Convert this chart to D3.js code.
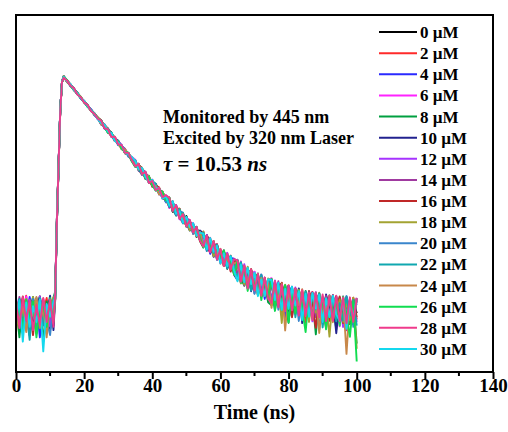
<!DOCTYPE html>
<html>
<head>
<meta charset="utf-8">
<script src="https://cdn.jsdelivr.net/npm/d3@7"></script>
<style>
  body { margin: 0; background: #fff; }
  text { font-family: "Liberation Serif", "Times New Roman", serif; font-weight: bold; }
</style>
</head>
<body>
<svg id="chart" width="508" height="432"></svg>
<script>
// time axis (ns)
const times = [0,1,2,3,4,5,6,7,8,9,10,11,11.5,12,12.5,13,13.5,
	14,15,16,17,18,19,20,21,22,23,24,25,26,27,28,29,30,31,32,33,34,35,36,37,38,39,40,41,42,43,44,45,46,47,48,49,50,
	51,52,53,54,55,56,57,58,59,60,61,62,63,64,65,66,67,68,69,70,71,72,73,74,75,76,77,78,79,80,81,82,83,84,85,86,87,
	88,89,90,91,92,93,94,95,96,97,98,99,100];

// average decay counts (log axis)
const meanCounts = [10,10,10,10,10,10,10,10,10,10,10,10,14,78,279,1000,1850,
	2075,1888,1718,1563,1422,1294,1178,1072,976,888,809,737,671,611,556,507,462,421,384,350,319,291,266,242,221,202,
	185,169,155,141,130,119,109,100,92,84,78,71.5,66,61,56,52,48,45,42,39,36,34,32,30,28,26,25,23.5,22,21,20,19,
	18.4,17.6,17,16.3,15.7,15.2,14.7,14.3,13.9,13.6,13.2,12.9,12.7,12.4,12.2,12,11.8,11.7,11.5,11.4,11.2,11.1,11,
	10.9,10.9,10.8,10.7,10.6,10.6];

// per-sample scatter of each trace around the mean, in percent
const j0 = [12,-20,35,-8,25,-30,5,40,-15,20,-35,10, 8,-4,2,-1,0, 1,-2,0,2,-1,1,-1,2,0,-2,1, 3,-4,2,5,-3,-1,4,-5,2,1, -6,7,2,-8,5,-3,8,-2,6,-7, 10,-12,4,9,-7,12,-3,6,-11,8, -15,18,5,-12,16,-8,14,-18,9,3, 22,-20,10,-15,23,-6,18,-22,12,-9, 25,-30,15,28,-20,10,-35,27,-12,22,-28,18,-8,30,-25,12,-40,24,-15,28,-22,8,26,-30,20,-10];
const j2 = [-15,30,-5,42,-25,18,-40,28,0,35,-20,15, -6,3,-2,1,0, -1,2,1,-2,0,2,-1,0,1,-1,2, -4,3,5,-2,-5,4,1,-3,5,-1, 7,-5,-8,4,7,-6,3,8,-4,-2, -9,11,-5,12,-10,3,10,-12,7,-4, 17,-10,-16,12,6,-18,15,-5,18,-12, -18,23,-10,20,-23,15,5,-20,22,-14, 28,-18,22,-32,10,30,-25,18,-10,27,-38,15,29,-15,20,-28,25,-5,30,-20,12,-30,24,-12,28,-22];
const j4 = [28,-38,10,-22,38,-10,25,-45,15,-5,30,-28, 10,5,1,2,-1, 2,0,-1,1,-2,0,2,-1,1,0,-2, 5,-2,-4,3,0,-5,2,4,-3,3, -3,8,-6,5,-8,2,6,-5,7,-8, 6,-10,12,-6,8,-12,4,11,-8,10, -12,15,-18,8,17,-14,6,-16,12,18, 20,-12,18,-23,8,22,-18,14,-25,18, -22,26,-15,20,-42,28,12,-24,26,-18,15,-30,22,-8,28,-35,18,-20,27,-14,24,-32,16,-25,22,8];
const j6 = [-5,25,-32,40,-12,22,-28,8,30,-40,20,-10, -8,-3,2,0,1, 0,1,-2,2,1,-1,0,-2,2,1,-1, -2,5,-3,-4,4,2,-5,3,-2,5, 8,-4,5,-7,-2,8,-6,4,-8,6, -12,8,-4,11,-9,6,12,-10,3,-6, 16,-18,10,-8,15,-16,18,-10,5,-17, -15,24,-20,12,-10,23,-22,18,-8,20, 30,-24,16,-12,27,-33,20,-18,28,-10,24,-26,10,30,-22,15,-30,26,-8,22,-35,28,-16,18,-24,26];
const j8 = [20,-45,32,-18,5,38,-30,15,-50,25,-12,35, 12,-5,-2,1,0, -2,1,2,-1,0,-2,1,2,-1,0,1, 4,1,-5,3,-3,5,-1,-4,3,-5, -8,3,6,-5,8,-7,-2,7,-5,4, 12,-6,-12,8,-4,10,-12,5,9,-12, -18,12,-6,17,-15,10,-18,16,-8,14, 23,-16,-24,15,-20,10,22,-24,6,-28, -30,22,-20,28,-10,-45,25,-18,15,-32,28,-20,12,-50,27,-15,24,-28,10,-40,26,-22,18,-30,20,-55];
const j10 = [-30,15,-18,28,-42,10,35,-22,18,-8,42,-35, -4,6,1,-2,1, 1,-1,-2,1,2,-2,0,1,-1,2,0, -5,2,4,-4,1,5,-3,-2,4,-4, 5,-8,-3,7,-6,4,-7,2,8,-3, -8,12,-10,4,11,-6,-12,8,-5,12, 13,-16,8,-18,12,-4,16,-14,10,-18, -22,18,-14,22,-25,8,-18,24,-12,16, 20,-35,26,-14,24,-28,8,-22,30,-40,18,-16,26,-25,14,-32,28,-12,20,-45,22,-18,28,-10,-30,24];
const j12 = [35,-12,22,-35,30,-5,-25,40,-18,12,-30,25, 6,-2,-1,2,-1, -1,2,-2,0,1,1,-2,0,2,-1,-1, 2,-5,4,-1,-4,3,5,-4,0,3, -5,6,-8,3,5,-8,7,-4,-6,8, 10,-8,6,-12,9,-3,-10,12,-7,5, -10,18,-14,6,-17,14,-9,18,-15,8, 18,-22,24,-8,-20,16,-14,25,-18,10, -24,28,-12,24,-30,20,-16,30,-26,12,-20,28,-34,16,24,-18,10,-28,27,-14,22,-36,30,-12,18,-26];
const j14 = [-22,38,-8,15,-35,28,-15,20,5,-38,32,-18, -10,4,2,-1,1, 2,-1,1,-2,2,0,-1,1,-2,2,0, -3,4,-5,2,3,-4,1,5,-2,-3, 6,-7,4,8,-5,-3,7,-8,5,2, -11,5,10,-8,-12,9,4,-9,12,-6, 14,-12,18,-16,4,12,-18,8,-12,16, -12,20,-24,14,18,-25,10,-16,22,-20, 26,-20,30,-38,15,-24,28,-10,22,-30,18,-14,28,-26,10,-32,24,-18,30,-8,-28,20,-40,25,-15,28];
const j16 = [15,-28,40,-20,8,-42,25,-5,32,-25,18,-15, 5,-3,-2,1,0, 0,-2,1,2,-1,-1,2,0,-2,1,2, 5,-3,-1,4,-5,2,3,-5,4,-1, -7,4,8,-6,3,-8,5,6,-7,-4, 9,-11,3,12,-6,-9,11,-4,8,-12, -17,10,15,-12,18,-6,-15,12,-18,10, 16,-24,12,-18,24,-14,20,-22,8,-16, -28,20,-15,30,-22,12,-36,26,-14,20,-25,30,-10,-42,24,-20,16,-28,22,-12,28,-30,14,-20,26,-18];
const j18 = [-38,20,-12,32,-25,38,-5,-32,25,-15,10,38, -7,5,1,-2,-1, -2,2,0,-1,1,2,-2,1,0,-1,2, 1,4,-4,-2,5,-3,2,-5,3,4, 4,-6,7,-3,-8,6,2,-5,8,-6, -6,10,-9,12,-4,7,-12,10,-3,-8, 18,-14,9,-17,13,-10,17,-6,15,-16, -20,14,-22,25,-12,18,-24,10,-18,24, 22,-26,14,-48,28,-16,20,-30,26,-12,18,-36,24,-18,30,-22,12,-50,26,-14,20,-28,16,-24,28,-60];
const j20 = [25,-15,-40,18,-22,32,-35,12,28,-18,-42,20, 9,-6,2,1,0, 1,0,-1,2,-2,1,0,-1,2,-2,1, -4,5,-1,-3,4,-5,3,2,-4,2, -6,5,-4,7,-7,8,-2,-6,5,-8, 8,-4,-11,6,12,-8,5,-12,10,-6, -14,16,-8,14,-18,6,12,-17,14,-8, 24,-14,16,-22,10,-26,22,-12,18,-22, -18,24,-32,16,-22,28,-14,24,-38,20,-10,26,-28,18,-44,22,-16,28,-24,12,-30,26,-18,22,-34,20];
const j22 = [-10,32,-25,5,-48,22,-18,35,-28,15,-8,28, -5,2,-2,1,1, -1,1,2,-2,0,1,-1,-2,1,2,-1, 3,-2,5,-4,-2,4,-3,1,5,-4, 7,-3,-7,6,-4,5,8,-7,-2,6, -10,7,-6,11,-12,4,9,-7,12,-10, 15,-18,12,-10,16,-14,8,-17,18,-12, -16,22,-10,18,-24,14,-20,25,-15,12, 26,-22,18,-30,24,-10,28,-34,14,-18,26,-24,20,-12,28,-40,16,-22,24,-28,10,-26,30,-16,22,-32];
const j24 = [30,-22,12,-38,20,-10,38,-25,8,-45,28,-5, 7,3,-1,-2,0, 2,-2,1,0,-1,2,-1,1,-2,0,2, -5,3,2,-4,3,-2,-5,4,1,-3, -4,8,-5,-2,7,-6,3,-8,6,4, 11,-7,8,-10,5,-12,7,3,-10,9, -16,8,-12,18,-8,15,-18,10,-14,6, 18,-25,20,-14,22,-8,-24,16,-20,14, -34,22,-16,28,-55,18,-24,26,-12,30,-28,16,-20,24,-48,20,-14,28,-30,12,-22,26,-65,18,-26,24];
const j26 = [-25,15,-35,30,-15,25,-45,10,20,-30,35,-22, -6,-4,1,2,-1, 1,2,-2,-1,2,0,1,-2,-1,2,0, 4,-3,-5,5,-1,3,-4,-2,5,-5, -8,5,4,-7,6,-5,-8,3,7,-4, 12,-10,5,-6,10,-12,6,-8,11,-5, -18,14,-10,16,-15,-6,18,-12,8,-18, 20,-24,12,-28,18,-14,24,-30,14,-20, 28,-36,18,-20,26,-44,12,-28,24,-16,-50,22,-30,28,-18,14,-42,26,-22,20,-34,28,-14,-48,18,-70];
const j28 = [22,-32,38,-20,28,-35,15,-28,35,-22,30,-30, 4,-2,1,-1,0, -2,1,-1,2,-2,1,-1,2,-2,1,-1, 4,-4,3,-5,5,-3,4,-4,5,-2, -7,7,-6,8,-8,5,-7,7,-5,8, 11,-10,12,-11,9,-12,10,-9,12,-11, -16,17,-15,18,-17,14,-18,16,-14,17, 22,-22,20,-24,23,-20,24,-23,21,-22, -26,27,-28,25,-30,28,-25,26,-30,27,-28,25,-32,28,-26,27,-30,26,-28,29,-27,25,-30,28,-26,27];
const j30 = [-18,28,-50,22,-30,12,-22,30,-60,18,-12,25, -3,4,-1,0,1, 0,-1,2,-1,1,-2,2,0,-1,1,-2, -2,4,-3,5,-5,1,3,-4,2,5, 5,-5,8,-4,-6,7,-3,6,-8,5, -7,12,-8,6,-11,10,-5,12,-9,7, 12,-15,17,-8,14,-18,10,-13,16,-10, -24,16,-18,22,-12,20,-26,12,-20,22, 24,-18,26,-30,16,-24,28,-14,22,-36,20,-28,26,-10,24,-32,18,-22,28,-16,-26,22,-38,14,-20,26];

const concs = [0,2,4,6,8,10,12,14,16,18,20,22,24,26,28,30];
const jitters = [j0,j2,j4,j6,j8,j10,j12,j14,j16,j18,j20,j22,j24,j26,j28,j30];
const colors = ["#000000","#ff2a2a","#2a2aff","#ff22ff","#00a040","#22228f","#a633ff","#a03aa0",
	"#c02828","#a3a332","#3a86cc","#10a8b0","#c8884a","#10dd50","#ef3b8c","#14d8ee"];
const xTicks = [0,20,40,60,80,100,120,140];

const W = 508, H = 432;
const mLeft = 16, mRight = 493, mTop = 15, mBottom = 372;

const svg = d3.select("#chart");
svg.append("rect").attr("width", W).attr("height", H).attr("fill", "#fff");

const x = d3.scaleLinear().domain([0, 140]).range([mLeft, mRight]);
const y = d3.scaleLog().domain([2.5, 8500]).range([mBottom, mTop]);

svg.append("clipPath").attr("id", "clip")
	.append("rect").attr("x", mLeft).attr("y", mTop).attr("width", mRight - mLeft).attr("height", mBottom - mTop);

const series = concs.map((c, i) => ({
	conc: c,
	color: colors[i],
	values: times.map((t, k) => ({t: t, v: meanCounts[k] * (1 + jitters[i][k] / 100)}))
}));

const line = d3.line()
	.x(d => x(d.t))
	.y(d => y(d.v));

// pink (28 uM) ends up on top in the original
const drawOrder = series.filter(s => s.conc !== 28).concat(series.filter(s => s.conc === 28));

svg.append("g")
	.attr("clip-path", "url(#clip)")
	.selectAll("path")
	.data(drawOrder)
	.enter().append("path")
		.attr("d", d => line(d.values))
		.attr("fill", "none")
		.attr("stroke", d => d.color)
		.attr("stroke-width", 1.9)
		.attr("stroke-linejoin", "round");

// x axis
const xAxis = svg.append("g")
	.attr("transform", `translate(0,${mBottom})`)
	.call(d3.axisBottom(x).tickValues(xTicks).tickSize(7).tickPadding(0).tickFormat(d3.format("d")));
xAxis.select(".domain").remove();
xAxis.selectAll(".tick line").attr("stroke", "#000").attr("stroke-width", 2);
xAxis.selectAll(".tick text").attr("font-size", 19).attr("fill", "#000")
	.style("font-family", "'Liberation Serif', serif").style("font-weight", "bold");

svg.append("g")
	.selectAll("line")
	.data(d3.range(10, 140, 20))
	.enter().append("line")
		.attr("x1", d => x(d)).attr("x2", d => x(d))
		.attr("y1", mBottom).attr("y2", mBottom + 4)
		.attr("stroke", "#000").attr("stroke-width", 2);

// frame
svg.append("rect")
	.attr("x", mLeft).attr("y", mTop)
	.attr("width", mRight - mLeft).attr("height", mBottom - mTop)
	.attr("fill", "none").attr("stroke", "#000").attr("stroke-width", 2);

svg.append("text")
	.attr("x", (mLeft + mRight) / 2).attr("y", 419)
	.attr("text-anchor", "middle").attr("font-size", 20)
	.text("Time (ns)");

// annotation
svg.append("text").attr("x", 163).attr("y", 123).attr("font-size", 18).text("Monitored by 445 nm");
svg.append("text").attr("x", 163).attr("y", 144).attr("font-size", 18).text("Excited by 320 nm Laser");
const tau = svg.append("text").attr("x", 163).attr("y", 171).attr("font-size", 21);
tau.append("tspan").attr("font-style", "italic").text("\u03c4");
tau.append("tspan").text(" = 10.53 ");
tau.append("tspan").attr("font-style", "italic").text("ns");

// legend
const legend = svg.append("g")
	.selectAll("g")
	.data(series)
	.enter().append("g")
		.attr("transform", (d, i) => `translate(0,${32 + i * 21.13})`);
legend.append("line")
	.attr("x1", 379).attr("x2", 417)
	.attr("stroke", d => d.color).attr("stroke-width", 2);
legend.append("text")
	.attr("x", 420).attr("y", 6)
	.attr("font-size", 17)
	.text(d => `${d.conc} \u00b5M`);
</script>
</body>
</html>
